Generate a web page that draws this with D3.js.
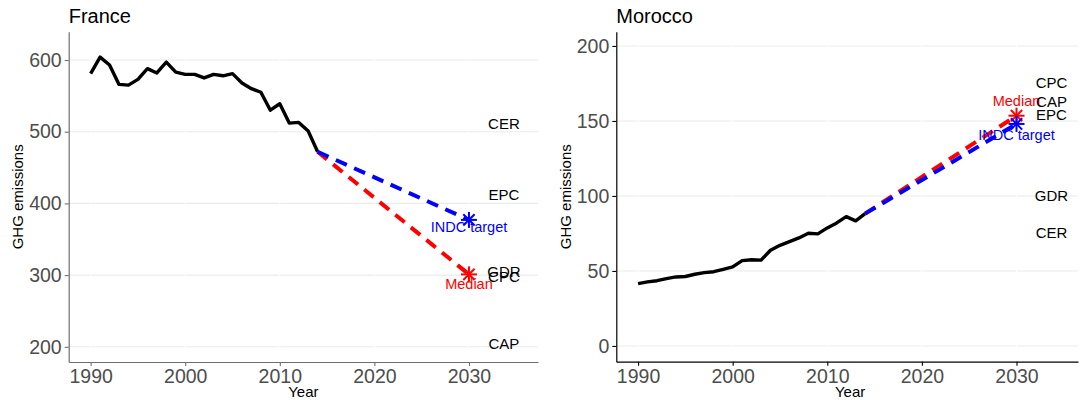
<!DOCTYPE html>
<html>
<head>
<meta charset="utf-8">
<script src="https://cdn.jsdelivr.net/npm/d3@7"></script>
<style>
  html, body { margin: 0; padding: 0; background: #fff; }
  svg { display: block; font-family: "Liberation Sans", Arial, sans-serif; }
</style>
</head>
<body>
<svg id="chart" width="1080" height="400"></svg>
<script>
// Historical years
const years = [1990, 1991, 1992, 1993, 1994, 1995, 1996, 1997, 1998, 1999,
               2000, 2001, 2002, 2003, 2004, 2005, 2006, 2007, 2008, 2009,
               2010, 2011, 2012, 2013, 2014];

// Historical GHG emissions
const franceEmissions = [581, 604, 593, 566, 565, 573, 588, 582, 597, 583,
                         580, 580, 575, 580, 578, 581, 568, 560, 555, 530,
                         539, 512, 513, 501, 472];
const moroccoEmissions = [41.5, 42.7, 43.5, 44.9, 46.0, 46.3, 47.8, 48.9, 49.5, 51.1,
                          52.7, 56.9, 57.5, 57.2, 63.8, 67.1, 69.5, 72.0, 75.1, 74.7,
                          78.7, 82.0, 86.2, 83.4, 88.2];

// Pathways from the last historical year to the target year
const projectionYears = [2014, 2030];
const franceIndc = [472, 377];
const franceMedian = [472, 301];
const moroccoIndc = [88.2, 148];
const moroccoMedian = [88.2, 153.5];

// Effort-sharing approaches and their 2030 allocations
const franceScenarioNames = ["CER", "EPC", "GDR", "CPC", "CAP"];
const franceScenarioValues = [510, 410, 303, 296, 203];
const moroccoScenarioNames = ["CPC", "CAP", "EPC", "GDR", "CER"];
const moroccoScenarioValues = [174.5, 162, 153, 99.5, 74.5];

// Axis ticks
const yearTicks = [1990, 2000, 2010, 2020, 2030];
const franceTicks = [200, 300, 400, 500, 600];
const moroccoTicks = [0, 50, 100, 150, 200];

const svg = d3.select("#chart");

const panels = [
  {
    title: "France", left: 68.7, right: 538, top: 31.7, bottom: 362,
    xDomain: [1987.68, 2037.3], yDomain: [178.8, 639.5],
    yTicks: franceTicks, hist: franceEmissions,
    indc: franceIndc, median: franceMedian,
    names: franceScenarioNames, values: franceScenarioValues,
    axisColor: "#6e6e6e", ylabX: 18, xlabShift: 0,
    indcLabelDy: 8.5, medianLabelDy: 10.5
  },
  {
    title: "Morocco", left: 616.3, right: 1078, top: 31.7, bottom: 361.7,
    xDomain: [1987.7, 2036.5], yDomain: [-10.5, 209.5],
    yTicks: moroccoTicks, hist: moroccoEmissions,
    indc: moroccoIndc, median: moroccoMedian,
    names: moroccoScenarioNames, values: moroccoScenarioValues,
    axisColor: "#000", ylabX: 566, xlabShift: 3,
    indcLabelDy: 12.5, medianLabelDy: -14
  }
];

function star(g, cx, cy, r, color) {
  const d = r * Math.SQRT1_2;
  const segs = [[-r, 0, r, 0], [0, -r, 0, r], [-d, -d, d, d], [-d, d, d, -d]];
  g.selectAll(null).data(segs).join("line")
    .attr("x1", s => cx + s[0]).attr("y1", s => cy + s[1])
    .attr("x2", s => cx + s[2]).attr("y2", s => cy + s[3])
    .attr("stroke", color).attr("stroke-width", 2);
}

panels.forEach(p => {
  const x = d3.scaleLinear().domain(p.xDomain).range([p.left, p.right]);
  const y = d3.scaleLinear().domain(p.yDomain).range([p.bottom, p.top]);
  const g = svg.append("g");

  // horizontal grid
  g.append("g").selectAll("line").data(p.yTicks).join("line")
    .attr("x1", p.left).attr("x2", p.right)
    .attr("y1", d => y(d)).attr("y2", d => y(d))
    .attr("stroke", "#ebebeb").attr("stroke-width", 1.1);
  // thin white breaks at the major year positions
  g.append("g").selectAll("line").data(yearTicks).join("line")
    .attr("x1", d => x(d)).attr("x2", d => x(d))
    .attr("y1", p.top).attr("y2", p.bottom)
    .attr("stroke", "#fff").attr("stroke-width", 1);

  // axes
  const xAxis = g.append("g").attr("transform", `translate(0,${p.bottom})`)
    .call(d3.axisBottom(x).tickValues(yearTicks).tickFormat(d3.format("d")).tickSize(4).tickSizeOuter(0).tickPadding(3));
  const yAxis = g.append("g").attr("transform", `translate(${p.left},0)`)
    .call(d3.axisLeft(y).tickValues(p.yTicks).tickSize(4).tickSizeOuter(0).tickPadding(3));
  [xAxis, yAxis].forEach(a => {
    a.select(".domain").attr("stroke", p.axisColor).attr("stroke-width", 1.2);
    a.selectAll(".tick line").attr("stroke", p.axisColor).attr("stroke-width", 1.1);
    a.selectAll(".tick text").attr("fill", "#4d4d4d").style("font-size", "19.5px")
      .style("font-family", "'Liberation Sans', Arial, sans-serif");
  });

  // titles
  g.append("text").attr("x", p.left).attr("y", 23).text(p.title)
    .style("font-size", "20px").attr("fill", "#000");
  g.append("text").attr("x", (p.left + p.right) / 2 + p.xlabShift).attr("y", 397)
    .attr("text-anchor", "middle").text("Year").style("font-size", "15px");
  g.append("text")
    .attr("transform", `translate(${p.ylabX + 5},${(p.top + p.bottom) / 2}) rotate(-90)`)
    .attr("text-anchor", "middle").text("GHG emissions").style("font-size", "15px");

  // historical line
  const line = d3.line().x(d => x(d[0])).y(d => y(d[1]));
  g.append("path").datum(years.map((yr, i) => [yr, p.hist[i]]))
    .attr("d", line).attr("fill", "none").attr("stroke", "#000")
    .attr("stroke-width", 3.4).attr("stroke-linejoin", "round");

  // projections
  g.append("path").datum(projectionYears.map((yr, i) => [yr, p.median[i]]))
    .attr("d", line).attr("fill", "none").attr("stroke", "#ff0000")
    .attr("stroke-width", 4).attr("stroke-dasharray", "12,8");
  g.append("path").datum(projectionYears.map((yr, i) => [yr, p.indc[i]]))
    .attr("d", line).attr("fill", "none").attr("stroke", "#0000ff")
    .attr("stroke-width", 4).attr("stroke-dasharray", "12,8");

  const ty = projectionYears[1];
  star(g, x(ty), y(p.median[1]), 8, "#ff0000");
  star(g, x(ty), y(p.indc[1]), 8, "#0000ff");

  g.append("text").attr("x", x(ty)).attr("y", y(p.median[1]) + p.medianLabelDy)
    .attr("text-anchor", "middle").attr("dominant-baseline", "middle")
    .text("Median").attr("fill", "#ff0000").style("font-size", "14.5px");
  g.append("text").attr("x", x(ty)).attr("y", y(p.indc[1]) + p.indcLabelDy)
    .attr("text-anchor", "middle").attr("dominant-baseline", "middle")
    .text("INDC target").attr("fill", "#0000ff").style("font-size", "14.5px");

  // effort-sharing labels
  g.append("g").selectAll("text").data(p.names).join("text")
    .attr("x", x(2033.7)).attr("y", (d, i) => y(p.values[i]))
    .attr("text-anchor", "middle").attr("dominant-baseline", "middle")
    .text(d => d).attr("fill", "#000").style("font-size", "15px");
});
</script>
</body>
</html>
